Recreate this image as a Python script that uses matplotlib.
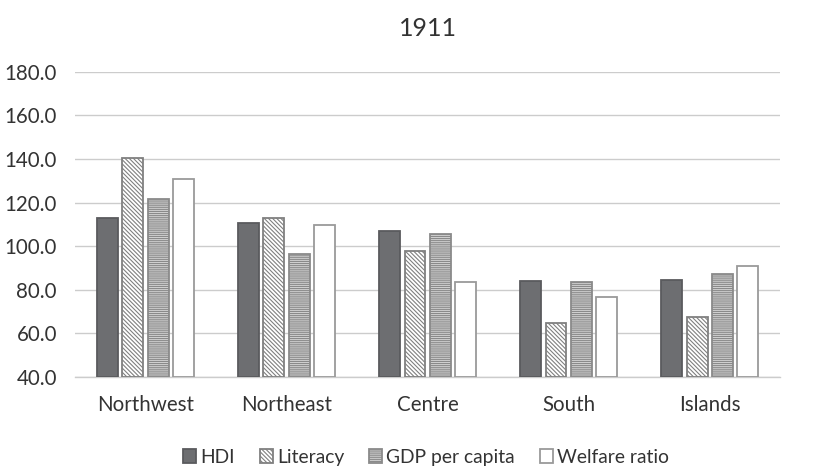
import matplotlib
matplotlib.use("Agg")
import matplotlib.pyplot as plt
import numpy as np
from matplotlib.ticker import FormatStrFormatter

plt.rcParams['font.family'] = ['Lato', 'DejaVu Sans']
plt.rcParams['hatch.linewidth'] = 0.8

categories = ["Northwest", "Northeast", "Centre", "South", "Islands"]
series_names = ["HDI", "Literacy", "GDP per capita", "Welfare ratio"]
hdi = [113.0, 110.7, 107.0, 84.0, 84.5]
literacy = [140.5, 113.0, 97.8, 64.8, 67.5]
gdp = [121.7, 96.4, 105.6, 83.6, 87.3]
welfare = [130.9, 109.8, 83.6, 76.7, 90.9]
yticks = [40, 60, 80, 100, 120, 140, 160, 180]

TXT = "#333333"
fig = plt.figure(figsize=(8.24, 4.70), dpi=100)
ax = fig.add_axes([0.091, 0.198, 0.856, 0.649])

x = np.arange(len(categories))
w = 0.148
step = 0.18
styles = [
    dict(facecolor="#6d6e71", edgecolor="#5a5b5e", hatch=None),
    dict(facecolor="white", edgecolor="#808080", hatch="\\\\\\\\\\\\\\\\"),
    dict(facecolor="#d2d2d2", edgecolor="#8a8a8a", hatch="--------"),
    dict(facecolor="white", edgecolor="#9a9a9a", hatch=None),
]
data = [hdi, literacy, gdp, welfare]
for i, (vals, st, name) in enumerate(zip(data, styles, series_names)):
    ax.bar(x + (i - 1.5) * step, np.array(vals) - 40, bottom=40, width=w,
           facecolor=st["facecolor"], edgecolor=st["edgecolor"], hatch=st["hatch"],
           linewidth=1.3, label=name, zorder=3)

ax.set_ylim(40, 180)
ax.set_xlim(-0.5, len(categories) - 0.5)
ax.set_yticks(yticks)
ax.yaxis.set_major_formatter(FormatStrFormatter('%.1f'))
ax.grid(axis='y', color="#cccccc", linewidth=1.0, zorder=0)
for s in ["top", "right", "left"]:
    ax.spines[s].set_visible(False)
ax.spines["bottom"].set_color("#cccccc")
ax.spines["bottom"].set_linewidth(1.0)
ax.set_xticks(x)
ax.set_xticklabels(categories)
ax.tick_params(axis='both', length=0, labelsize=14.8, colors=TXT)
ax.tick_params(axis='x', pad=13)
ax.tick_params(axis='y', pad=13)
ax.set_title("1911", fontsize=18, color=TXT, pad=26)

leg = fig.legend(loc="center", bbox_to_anchor=(0.517, 0.027), ncol=4, frameon=False,
                 fontsize=13.9, handlelength=0.68, handleheight=0.68, handletextpad=0.2,
                 columnspacing=1.3, borderpad=0.0)
for t in leg.get_texts():
    t.set_color(TXT)

fig.savefig("out.png", dpi=100)
